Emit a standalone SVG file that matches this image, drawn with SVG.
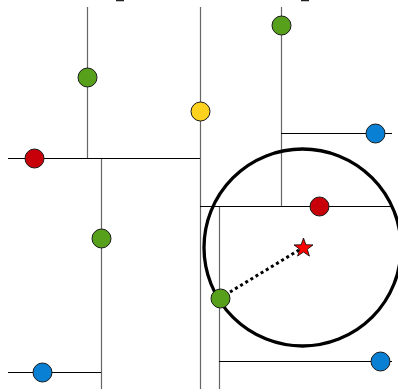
<svg xmlns="http://www.w3.org/2000/svg" width="398" height="389" viewBox="0 0 398 389">
<style>
.v{stroke:#666;stroke-width:1.2;fill:none}
.h{stroke:#000;stroke-width:1;fill:none}
.pt{stroke:#1a1a1a;stroke-width:1}
.g{fill:#56a01c}.r{fill:#c8000a}.y{fill:#ffd21f}.b{fill:#0a80d4}
</style>
<rect width="398" height="389" fill="#fff"/>
<g id="connectors">
<path class="v" d="M87.5 7V158M200.5 7V389M281.5 7V206M101.5 158V389M219.5 206V389"/>
<path class="h" d="M8 158.5H200M281 133.5H392M200 206.5H393M219 361.5H392M8 372.5H101"/>
<path d="M116 0.5H124M301 0.5H309" stroke="#222" stroke-width="1.5"/>
<circle cx="302.5" cy="247.5" r="98.5" fill="none" stroke="#000" stroke-width="3.3"/>
<line x1="230" y1="292" x2="299" y2="250" stroke="#000" stroke-width="3" stroke-dasharray="3,3"/>
</g>
<g id="n1"><circle class="pt g" cx="87.5" cy="77.5" r="9.5"/></g>
<g id="n2"><circle class="pt y" cx="200.5" cy="111.5" r="9.5"/></g>
<g id="n3"><circle class="pt g" cx="281.5" cy="25.5" r="9.5"/></g>
<g id="n4"><circle class="pt b" cx="375.5" cy="133.5" r="9.5"/></g>
<g id="n5"><circle class="pt r" cx="34.5" cy="158.5" r="9.5"/></g>
<g id="n6"><circle class="pt r" cx="319.5" cy="206.5" r="9.5"/></g>
<g id="n7"><circle class="pt g" cx="101.5" cy="238.5" r="9.5"/></g>
<g id="n8"><circle class="pt g" cx="220.5" cy="298.5" r="9.5"/></g>
<g id="n9"><circle class="pt b" cx="42.5" cy="372.5" r="9.5"/></g>
<g id="n10"><circle class="pt b" cx="380.5" cy="361.5" r="9.5"/></g>
<g id="star"><polygon fill="#f00" stroke="#000" stroke-width="0.8" transform="translate(303.5,248)" points="0,-10 2.35,-3.24 9.51,-3.09 3.8,1.24 5.88,8.09 0,4 -5.88,8.09 -3.8,1.24 -9.51,-3.09 -2.35,-3.24"/></g>
</svg>
